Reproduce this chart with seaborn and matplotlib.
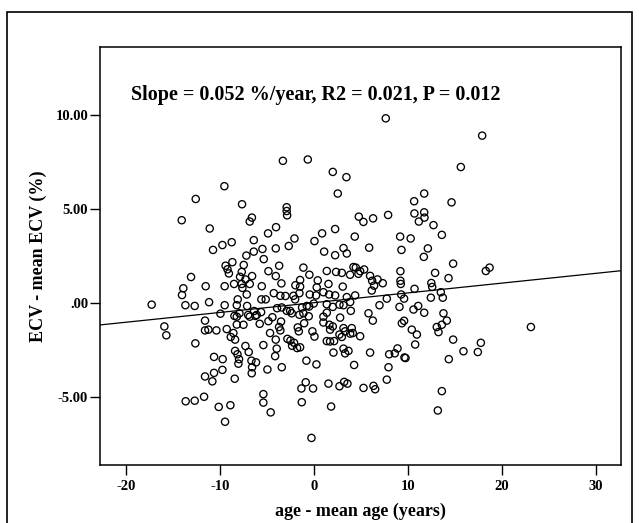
import matplotlib
matplotlib.use("Agg")
import matplotlib.pyplot as plt
import seaborn as sns
import numpy as np
import pandas as pd
from matplotlib.patches import Rectangle

# ---- data (age - mean age, ECV - mean ECV) ----
age_dev = [
    -3.3, -0.65, -9.53, -12.58, -7.65, -2.9, -2.9, -2.85, -14.07, -6.6, -6.83,
    -11.09, -4.03, -4.88, -2.07, -6.4, 0.06, -9.74, -8.75, -10.74, -5.48, -6.4,
    -4.06, -2.68, -7.19, -5.34, -8.68, -9.4, -9.2, -9.05, -7.47, -3.7, -1.12,
    -4.84, -0.48, -7.68, -7.86, -7.29, -6.58, -4.06, -13.08, -1.47, 0.41,
    7.65, 17.91, 15.64, 2.01, 3.46, 2.54, 10.67, 11.74, 14.65,
    10.7, 11.74, 11.77, 11.17, 4.78, 5.27, 6.3, 7.9, 12.73, 13.62,
    0.87, 2.26, 4.35, 9.18, 10.3, 1.09, 2.26, 3.15, 3.5, 5.88, 9.32, 12.13, 11.7,
    14.82, 18.3, 18.7,
    1.37, 2.36, 2.97, 4.21, 4.46, 4.74, 4.92, 5.35, 3.85,
    5.98, 6.2, 6.77, 7.33, 6.41, 9.21, 9.21, 9.25, 12.5, 12.59, 12.9, 14.33, 1.55, 3.07,
    -13.9, -14.04, -11.52, -9.5, -8.5, -7.68, -6.83, -7.61, -7.15, -8.11,
    -5.55, -3.46, -1.97, -1.47, -1.54, -2.18, -2.0,
    -0.44, 0.3, -5.59, -5.13, -4.27, -3.57, -3.03,
    -17.27, -13.68, -12.69, -11.16, -9.5, -8.21, -7.11,
    -9.95, -8.46, -8.21, -7.93, -7.0, -6.37, -6.09, -5.62,
    -3.92, -3.42, -2.89, -2.53, -2.36, -1.26, -0.76, -0.02, -0.51,
    -1.54, -1.12, -0.55,
    -6.83, -6.23, -4.42, -5.77, -4.84, -3.5, -11.59, -8.21, -7.5, -3.71, -1.04,
    -15.92, -15.71, -11.59, -11.23, -10.38, -9.28, -8.57, -8.85, -8.39, -4.67,
    -3.57, -1.72, -1.61, -0.16, 0.06,
    -4.06, -2.82, -2.5, -2.11, -2.32, -1.79, -1.47,
    -12.62, -7.29, -6.94, -5.38, -3.96, -4.13,
    -8.39, -8.14, -7.97, -8.04, -6.65, -6.16, -6.58, -6.62, -4.95, -3.42, -0.8, 0.27,
    -10.63, -9.71, -10.63, -11.59, -9.74, -10.81, -8.43,
    -13.65, -12.69, -11.69, -10.13, -8.89, -9.46,
    -5.38, -5.38, -4.6, -0.87, -1.33, -0.09, -1.29, -0.26,
    10.71, 0.23, 1.01, 1.62, 2.26, 3.5, 4.39,
    1.37, 2.01, 2.72, 3.15, 3.86, 3.93,
    6.16, 7.76, 6.98, 9.29, 9.6, 9.11,
    10.6, 11.1, 11.74, 12.45, 13.51, 13.72,
    13.79, 14.15, 13.62, 13.08, 13.26, 23.1,
    5.81, 6.27, 9.36, 9.6, 10.42, 10.96, 10.78,
    14.82, 15.92, 17.45, 17.77, 14.36,
    1.01, 1.37, 1.01, 1.65, 2.01, 1.72, 2.79,
    3.15, 3.32, 4.03, 4.14, 3.86, 4.92, 2.72, 2.97,
    1.37, 1.72, 2.15, 2.08, 3.15, 3.68, 3.32,
    5.98, 8.01, 8.61, 8.9, 9.64, 9.75,
    4.28, 7.94, 7.76, 1.55, 2.72, 3.22, 3.57,
    5.28, 6.34, 6.52, 13.62, 1.83, 13.19,
]
ecv_dev = [
    7.56, 7.63, 6.21, 5.53, 5.25, 5.09, 4.89, 4.66, 4.40, 4.54, 4.33,
    3.96, 4.03, 3.70, 3.43, 3.34, 3.29, 3.08, 3.23, 2.82, 2.87, 2.73,
    2.9, 3.03, 2.52, 2.33, 2.17, 1.98, 1.79, 1.57, 2.02, 1.98, 1.88,
    1.69, 1.5, 1.65, 1.39, 1.25, 1.43, 1.43, 1.38, 1.22, 1.2,
    9.82, 8.9, 7.23, 6.97, 6.69, 5.82, 5.41, 5.82, 5.35,
    4.76, 4.82, 4.54, 4.33, 4.59, 4.31, 4.5, 4.68, 4.14, 3.62,
    3.7, 3.93, 3.53, 3.53, 3.43, 2.73, 2.54, 2.92, 2.63, 2.94, 2.82, 2.9, 2.45,
    2.09, 1.7, 1.88,
    1.7, 1.65, 1.6, 1.91, 1.88, 1.55, 1.69, 1.78, 1.5,
    1.44, 1.18, 1.25, 1.05, 0.92, 1.69, 1.18, 1.01, 1.06, 0.85, 1.6, 1.32, 1.01, 0.87,
    0.78, 0.42, 0.89, 0.89, 1.01, 1.01, 1.01, 0.8, 0.45, 0.19,
    0.89, 1.04, 0.94, 0.87, 0.52, 0.38, 0.19,
    0.45, 0.83, 0.19, 0.19, 0.52, 0.38, 0.37,
    -0.09, -0.12, -0.16, 0.04, -0.12, -0.12, -0.16,
    -0.57, -0.69, -0.73, -0.55, -0.64, -0.43, -0.64, -0.49,
    -0.28, -0.24, -0.42, -0.42, -0.55, -0.24, -0.16, -0.03, -0.19,
    -0.63, -0.55, -0.71,
    -0.73, -0.69, -0.76, -1.11, -0.97, -0.99, -0.94, -1.15, -1.16, -1.28, -1.08,
    -1.25, -1.72, -1.46, -1.42, -1.46, -1.39, -1.6, -1.81, -1.95, -1.6,
    -1.46, -1.3, -1.51, -1.51, -1.79,
    -1.95, -1.91, -2.0, -2.12, -2.28, -2.4, -2.36,
    -2.15, -2.29, -2.61, -2.24, -2.43, -2.83,
    -2.55, -2.73, -2.99, -3.23, -3.07, -3.16, -3.42, -3.74, -3.54, -3.42, -3.07, -3.27,
    -2.87, -2.99, -3.72, -3.91, -3.56, -4.17, -4.03,
    -5.23, -5.2, -4.99, -5.53, -5.44, -6.32,
    -4.85, -5.3, -5.82, -4.22, -4.55, -4.55, -5.28, -7.18,
    0.75, 0.4, 0.57, 0.45, 0.4, 0.31, 0.4,
    -0.07, -0.21, -0.09, -0.12, 0.05, -0.42,
    0.66, 0.23, -0.12, 0.45, 0.23, -0.21,
    -0.35, -0.16, -0.52, 0.28, 0.57, 0.28,
    -0.55, -0.94, -1.16, -1.28, -1.55, -1.28,
    -0.55, -0.94, -1.08, -0.95, -1.42, -1.68, -2.21,
    -1.95, -2.57, -2.61, -2.12, -2.99,
    -0.73, -0.52, -1.04, -1.16, -1.25, -1.42, -0.78,
    -1.34, -1.51, -1.34, -1.6, -1.63, -1.77, -1.68, -1.81,
    -2.03, -2.05, -2.03, -2.64, -2.43, -2.55, -2.68,
    -2.64, -2.73, -2.68, -2.42, -2.9, -2.93,
    -3.3, -3.42, -4.08, -4.29, -4.43, -4.2, -4.29,
    -4.52, -4.41, -4.59, -4.69, -5.51, -5.72,
]

fit_slope = 0.052
fit_intercept = 0.014

x_ticks = [-20, -10, 0, 10, 20, 30]
x_tick_labels = ["-20", "-10", "0", "10", "20", "30"]
y_ticks = [-5, 0, 5, 10]
y_tick_labels = ["-5.00", ".00", "5.00", "10.00"]

annotation = "Slope = 0.052 %/year, R2 = 0.021, P = 0.012"
x_label = "age - mean age (years)"
y_label = "ECV - mean ECV (%)"

df = pd.DataFrame({"age": age_dev, "ecv": ecv_dev})

# ---- style ----
sns.set_theme(style="ticks")
plt.rcParams["font.family"] = ["Liberation Serif", "DejaVu Serif"]
plt.rcParams["font.weight"] = "bold"

fig = plt.figure(figsize=(6.39, 5.23), dpi=100)
fig.patch.set_facecolor("white")
W, H = 639, 523
ax = fig.add_axes([100 / W, (H - 465) / H, (621 - 100) / W, (465 - 46.7) / H])
ax.set_facecolor("white")

sns.scatterplot(data=df, x="age", y="ecv", ax=ax, marker="o", s=27,
                facecolor="none", edgecolor="black", linewidth=0.95, legend=False)

ax.axline((0, fit_intercept), slope=fit_slope, color="black", lw=0.9)

ax.set_xlim(-22.77, 32.69)
ax.set_ylim(-8.62, 13.63)

ax.set_xticks(x_ticks)
ax.set_xticklabels(x_tick_labels)
ax.set_yticks(y_ticks)
ax.set_yticklabels(y_tick_labels)

for sp in ax.spines.values():
    sp.set_visible(True)
    sp.set_color("black")
    sp.set_linewidth(1.1)

ax.tick_params(axis="both", direction="out", length=7, width=1.0, color="black",
               labelsize=10.5, labelcolor="black")
ax.tick_params(axis="x", pad=3.5)
ax.tick_params(axis="y", pad=1.5)
for lab in ax.get_xticklabels() + ax.get_yticklabels():
    lab.set_fontweight("bold")

ax.set_xlabel(x_label, fontsize=13, fontweight="bold", color="black")
ax.set_ylabel(y_label, fontsize=13, fontweight="bold", color="black")
ax.xaxis.set_label_coords(0.5, (465 - 503) / (465 - 46.7))
ax.yaxis.set_label_coords((47 - 100) / (621 - 100), 0.5)

ax.text((131 - 100) / (621 - 100), (465 - 100) / (465 - 46.7), annotation,
        transform=ax.transAxes, fontsize=14.5, fontweight="bold",
        ha="left", va="baseline", color="black")

# outer frame around the figure
frame = Rectangle((7 / W, -0.02), (632 - 7) / W, (H - 12) / H + 0.02,
                  transform=fig.transFigure, fill=False, edgecolor="black",
                  linewidth=1.2, clip_on=False)
fig.patches.append(frame)

fig.savefig("out.png", dpi=100, facecolor="white")
